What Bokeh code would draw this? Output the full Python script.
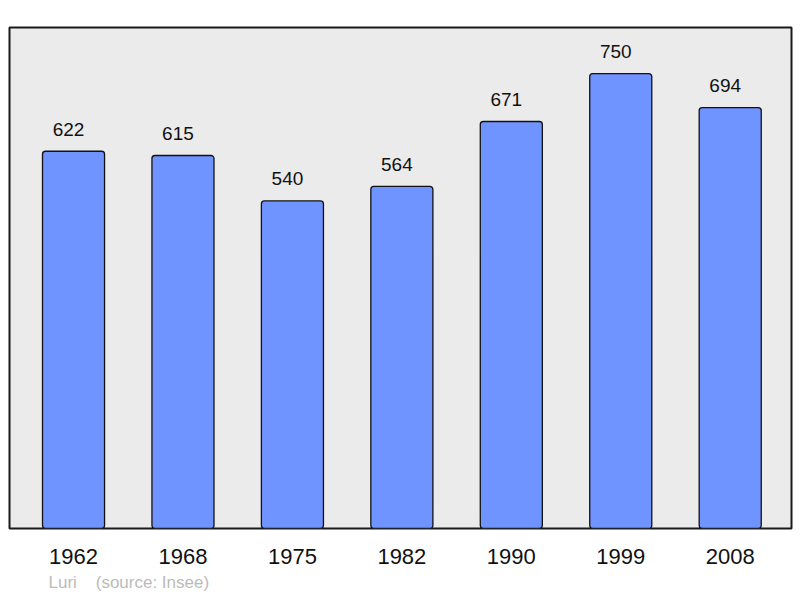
from bokeh.plotting import figure
from bokeh.models import Range1d, FixedTicker, Title, ColumnDataSource
from bokeh.core.properties import value
from bokeh.embed import file_html
from bokeh.resources import INLINE

years = ["1962", "1968", "1975", "1982", "1990", "1999", "2008"]
population = [622, 615, 540, 564, 671, 750, 694]
source_text = "Luri\u00a0\u00a0\u00a0\u00a0(source: Insee)"

xs = list(range(len(years)))
src = ColumnDataSource(dict(x=xs, y=population, lbl=[str(v) for v in population]))

p = figure(frame_width=782, frame_height=501,
           x_range=Range1d(-0.585, 6.56), y_range=Range1d(0, 826),
           output_backend="svg", toolbar_location=None,
           min_border_left=9, min_border_right=9, min_border_top=27, min_border_bottom=0,
           background_fill_color="#ebebeb", border_fill_color="white")

p.vbar(x="x", top="y", width=0.567, bottom=0, source=src,
       fill_color="#7094ff", line_color="#111111", line_width=1.3, border_radius=3)

p.text(x="x", y="y", text="lbl", source=src, text_align="center",
       text_baseline="alphabetic", y_offset=-22, x_offset=-5,
       text_font=value("Liberation Sans"), text_font_size="19px", text_color="#111111")

p.xgrid.visible = False
p.ygrid.visible = False
p.yaxis.visible = False

ax = p.xaxis[0]
ax.ticker = FixedTicker(ticks=xs)
ax.major_label_overrides = {i: y for i, y in enumerate(years)}
ax.axis_line_color = None
ax.major_tick_line_color = None
ax.minor_tick_line_color = None
ax.major_tick_out = 0
ax.major_label_standoff = 20
ax.major_label_text_font = "Liberation Sans"
ax.major_label_text_font_size = "22px"
ax.major_label_text_color = "#111111"

p.outline_line_color = "#1a1a1a"
p.outline_line_width = 2

t = Title(text=source_text, align="left", offset=39, text_font="Liberation Sans",
          text_font_size="17px", text_font_style="normal", text_color="#bbbbbb",
          standoff=9)
p.add_layout(t, "below")

open("out.html", "w").write(file_html(p, INLINE))
